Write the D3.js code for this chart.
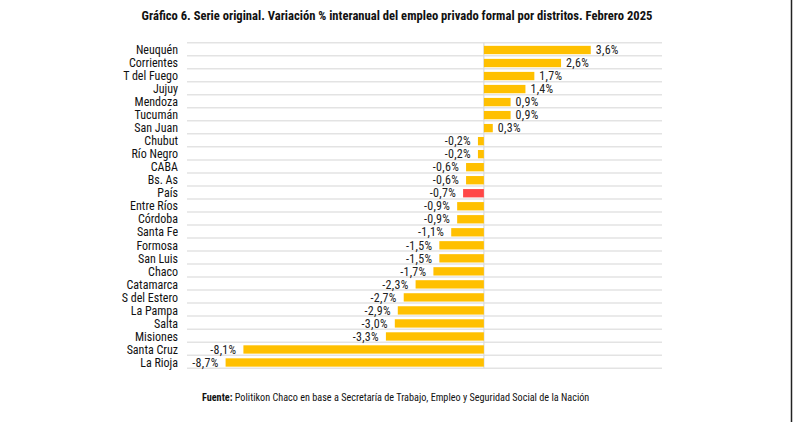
<!DOCTYPE html>
<html>
<head>
<meta charset="utf-8">
<script src="https://cdn.jsdelivr.net/npm/d3@7"></script>
<style>
  html, body { margin: 0; padding: 0; background: #fff; }
  #chart { width: 793px; height: 422px; }
  text { font-family: "Liberation Sans Narrow", "Roboto Condensed", Roboto, sans-serif; }
</style>
</head>
<body>
<div id="chart"></div>
<script>
// datos del gráfico
const distritos = ['Neuquén', 'Corrientes', 'T del Fuego', 'Jujuy', 'Mendoza', 'Tucumán', 'San Juan',
  'Chubut', 'Río Negro', 'CABA', 'Bs. As', 'País', 'Entre Ríos', 'Córdoba', 'Santa Fe', 'Formosa',
  'San Luis', 'Chaco', 'Catamarca', 'S del Estero', 'La Pampa', 'Salta', 'Misiones', 'Santa Cruz', 'La Rioja'];
const variacion = [3.6, 2.6, 1.7, 1.4, 0.9, 0.9, 0.3, -0.2, -0.2, -0.6, -0.6, -0.7, -0.9, -0.9, -1.1,
  -1.5, -1.5, -1.7, -2.3, -2.7, -2.9, -3.0, -3.3, -8.1, -8.7];
const xDominio = [-10, 6];
const destacado = 'País';

const titulo = 'Gráfico 6. Serie original. Variación % interanual del empleo privado formal por distritos. Febrero 2025';
const fuenteBold = 'Fuente:';
const fuenteTexto = ' Politikon Chaco en base a Secretaría de Trabajo, Empleo y Seguridad Social de la Nación';

const W = 793, H = 422;
const margin = { top: 42.7, left: 187, right: 131, bottom: 53 };

const svg = d3.select('#chart').append('svg')
  .attr('width', W).attr('height', H);

// escalas
const x = d3.scaleLinear().domain(xDominio).range([margin.left, W - margin.right]);
const y = d3.scaleBand().domain(distritos)
  .range([margin.top, margin.top + 13.02 * distritos.length])
  .paddingInner(0.36).paddingOuter(0.18);
const step = y.step();

// formato con coma decimal y guion simple
const fmt = v => v.toFixed(1).replace('.', ',') + '%';

// título
svg.append('text')
  .attr('x', 397).attr('y', 20)
  .attr('text-anchor', 'middle')
  .style('font-weight', 'bold').style('font-size', '12.6px').style('fill', '#111')
  .text(titulo);

// líneas horizontales de la grilla
const rows = d3.range(distritos.length + 1);
svg.append('g').selectAll('line')
  .data(rows).enter().append('line')
  .attr('x1', x(xDominio[0])).attr('x2', x(xDominio[1]))
  .attr('y1', i => margin.top + i * step).attr('y2', i => margin.top + i * step)
  .attr('stroke', '#e3e3e3').attr('stroke-width', 1.5);

// línea del cero
svg.append('line')
  .attr('x1', x(0)).attr('x2', x(0))
  .attr('y1', margin.top).attr('y2', margin.top + distritos.length * step)
  .attr('stroke', '#dcdcdc').attr('stroke-width', 1.2);

const datos = distritos.map((d, i) => ({ name: d, value: variacion[i] }));

// barras
svg.append('g').selectAll('rect')
  .data(datos).enter().append('rect')
  .attr('x', d => x(Math.min(0, d.value)))
  .attr('y', d => y(d.name) + 0.8)
  .attr('width', d => Math.abs(x(d.value) - x(0)))
  .attr('height', y.bandwidth())
  .attr('fill', d => d.name === destacado ? '#ff4747' : '#ffc000');

// etiquetas de valores
svg.append('g').selectAll('text')
  .data(datos).enter().append('text')
  .attr('x', d => d.value >= 0 ? x(d.value) + 5 : x(d.value) - 7)
  .attr('y', d => y(d.name) + y.bandwidth() / 2 + 0.8)
  .attr('dy', '0.35em')
  .attr('text-anchor', d => d.value >= 0 ? 'start' : 'end')
  .style('font-size', '12px').style('letter-spacing', '0.3px').style('fill', '#222')
  .text(d => fmt(d.value));

// etiquetas de distritos
svg.append('g').selectAll('text')
  .data(distritos).enter().append('text')
  .attr('x', 178)
  .attr('y', d => y(d) + y.bandwidth() / 2 + 0.8)
  .attr('dy', '0.35em')
  .attr('text-anchor', 'end')
  .style('font-size', '12px').style('fill', '#111')
  .text(d => d);

// fuente
const fuente = svg.append('text')
  .attr('x', 202).attr('y', 401)
  .style('font-size', '10.2px').style('fill', '#111');
fuente.append('tspan').style('font-weight', 'bold').text(fuenteBold);
fuente.append('tspan').text(fuenteTexto);

// borde derecho
svg.append('line')
  .attr('x1', 791.5).attr('x2', 791.5).attr('y1', 0).attr('y2', H)
  .attr('stroke', '#222').attr('stroke-width', 1.5);
</script>
</body>
</html>
